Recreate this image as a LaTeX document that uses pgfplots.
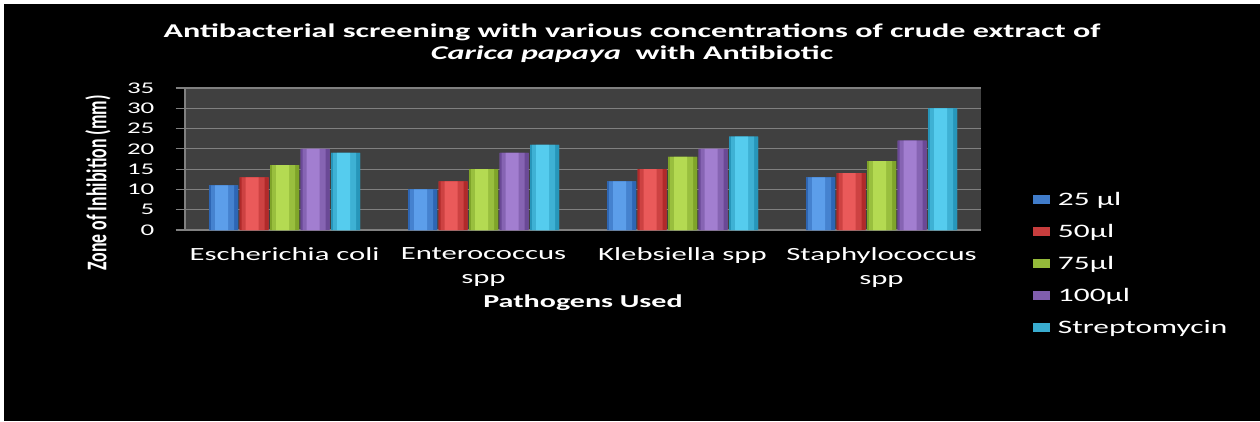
\documentclass[border=0pt]{standalone}
\usepackage{fontspec}
\usepackage{pgfplots}
\pgfplotsset{compat=1.18}
\setmainfont{Carlito}
\newfontfamily\wide{Carlito}[FakeStretch=1.65]
\newfontfamily\narrow{Carlito}[FakeStretch=0.625]
\definecolor{plotbg}{HTML}{404040}
\definecolor{gridc}{HTML}{808080}
\definecolor{bluelt}{HTML}{5C9EEA}\definecolor{bluedk}{HTML}{2E66B4}
\definecolor{redlt}{HTML}{EA5A5A}\definecolor{reddk}{HTML}{B02A2A}
\definecolor{greenlt}{HTML}{B4DA52}\definecolor{greendk}{HTML}{7FA42A}
\definecolor{purplelt}{HTML}{A27ED0}\definecolor{purpledk}{HTML}{6A4996}
\definecolor{cyanlt}{HTML}{55CCEE}\definecolor{cyandk}{HTML}{2796BA}
\pgfplotstableread{
x a b c d e
0 11 13 16 20 19
1 10 12 15 19 21
2 12 15 18 20 23
3 13 14 17 22 30
}\datatab
\begin{document}
\begin{tikzpicture}[x=1pt,y=1pt]
\useasboundingbox (0,0) rectangle (1260,421);
\fill[white] (0,0) rectangle (1260,421);
\fill[black] (4,0) rectangle (1260,417);
\node[anchor=base, text=white, inner sep=0pt] at (632,383)
  {\wide\bfseries\fontsize{19.5}{22}\selectfont Antibacterial screening with various concentrations of crude extract of};
\node[anchor=base, text=white, inner sep=0pt] at (632,361)
  {\wide\bfseries\fontsize{19.5}{22}\selectfont \textit{Carica papaya}\ \ with Antibiotic};
\node[rotate=90, text=white, inner sep=0pt] at (98,238)
  {\narrow\bfseries\fontsize{28.5}{30}\selectfont Zone of Inhibition (mm)};
\begin{axis}[
  at={(185pt,191pt)}, anchor=south west,
  scale only axis, width=796pt, height=142pt,
  xmin=-0.5, xmax=3.5, ymin=0, ymax=35,
  axis lines*=left,
  axis line style={draw=gridc, line width=1.2pt},
  axis background/.style={fill=plotbg},
  ymajorgrids, grid style={draw=gridc, line width=1.2pt},
  ytick={0,5,...,35},
  xtick={0,1,2,3},
  xticklabels={Escherichia coli, Enterococcus\\spp, Klebsiella spp, Staphylococcus\\spp},
  tick align=outside,
  major tick length=9.5pt,
  ytick style={draw=gridc, line width=1.2pt},
  xtick style={draw=none},
  /pgf/number format/assume math mode=true,
  yticklabel style={font=\wide\fontsize{16.3}{18}\selectfont, text=white, anchor=east, inner sep=0pt, xshift=-21pt},
  xticklabel style={font=\wide\fontsize{18.6}{24}\selectfont, text=white, align=center, anchor=north, inner sep=0pt, yshift=-8pt},
  xlabel={Pathogens Used},
  xlabel style={font=\wide\bfseries\fontsize{18.2}{22}\selectfont, text=white, at={(axis description cs:0.5,0)}, anchor=base, inner sep=0pt, yshift=-77pt},
  ybar, bar width=29pt,
  legend cell align=left,
  legend image code/.code={\path[#1, draw=none] (0pt,-4pt) rectangle (17pt,5pt);},
  legend style={at={(axis description cs:1.0653,0.2746)}, anchor=north west,
    draw=none, fill=none, inner sep=0pt, outer sep=0pt, row sep=14pt, column sep=8pt,
    font=\wide\fontsize{19}{22}\selectfont, text=white,
    nodes={inner sep=0pt, text height=14pt, text depth=4pt}},
]
% base bars
\addplot[draw=none, fill=bluedk!60!bluelt, bar shift=-61pt] table[x=x,y=a] {\datatab};
\addplot[draw=none, fill=reddk!60!redlt, bar shift=-30.5pt] table[x=x,y=b] {\datatab};
\addplot[draw=none, fill=greendk!60!greenlt, bar shift=0pt] table[x=x,y=c] {\datatab};
\addplot[draw=none, fill=purpledk!60!purplelt, bar shift=30.5pt] table[x=x,y=d] {\datatab};
\addplot[draw=none, fill=cyandk!60!cyanlt, bar shift=61pt] table[x=x,y=e] {\datatab};
\legend{25 µl, 50µl, 75µl, 100µl, Streptomycin}
% edge darkening
\addplot[forget plot, draw=none, fill=bluedk, bar width=29pt, bar shift=-61pt] table[x=x,y=a] {\datatab};
\addplot[forget plot, draw=none, fill=reddk, bar width=29pt, bar shift=-30.5pt] table[x=x,y=b] {\datatab};
\addplot[forget plot, draw=none, fill=greendk, bar width=29pt, bar shift=0pt] table[x=x,y=c] {\datatab};
\addplot[forget plot, draw=none, fill=purpledk, bar width=29pt, bar shift=30.5pt] table[x=x,y=d] {\datatab};
\addplot[forget plot, draw=none, fill=cyandk, bar width=29pt, bar shift=61pt] table[x=x,y=e] {\datatab};
% middle tone
\addplot[forget plot, draw=none, fill=bluedk!50!bluelt, bar width=23pt, bar shift=-62pt] table[x=x,y=a] {\datatab};
\addplot[forget plot, draw=none, fill=reddk!50!redlt, bar width=23pt, bar shift=-31.5pt] table[x=x,y=b] {\datatab};
\addplot[forget plot, draw=none, fill=greendk!50!greenlt, bar width=23pt, bar shift=-1pt] table[x=x,y=c] {\datatab};
\addplot[forget plot, draw=none, fill=purpledk!50!purplelt, bar width=23pt, bar shift=29.5pt] table[x=x,y=d] {\datatab};
\addplot[forget plot, draw=none, fill=cyandk!50!cyanlt, bar width=23pt, bar shift=60pt] table[x=x,y=e] {\datatab};
% highlight
\addplot[forget plot, draw=none, fill=bluelt, bar width=13pt, bar shift=-63pt] table[x=x,y=a] {\datatab};
\addplot[forget plot, draw=none, fill=redlt, bar width=13pt, bar shift=-32.5pt] table[x=x,y=b] {\datatab};
\addplot[forget plot, draw=none, fill=greenlt, bar width=13pt, bar shift=-2pt] table[x=x,y=c] {\datatab};
\addplot[forget plot, draw=none, fill=purplelt, bar width=13pt, bar shift=28.5pt] table[x=x,y=d] {\datatab};
\addplot[forget plot, draw=none, fill=cyanlt, bar width=13pt, bar shift=59pt] table[x=x,y=e] {\datatab};
\end{axis}
\end{tikzpicture}
\end{document}
